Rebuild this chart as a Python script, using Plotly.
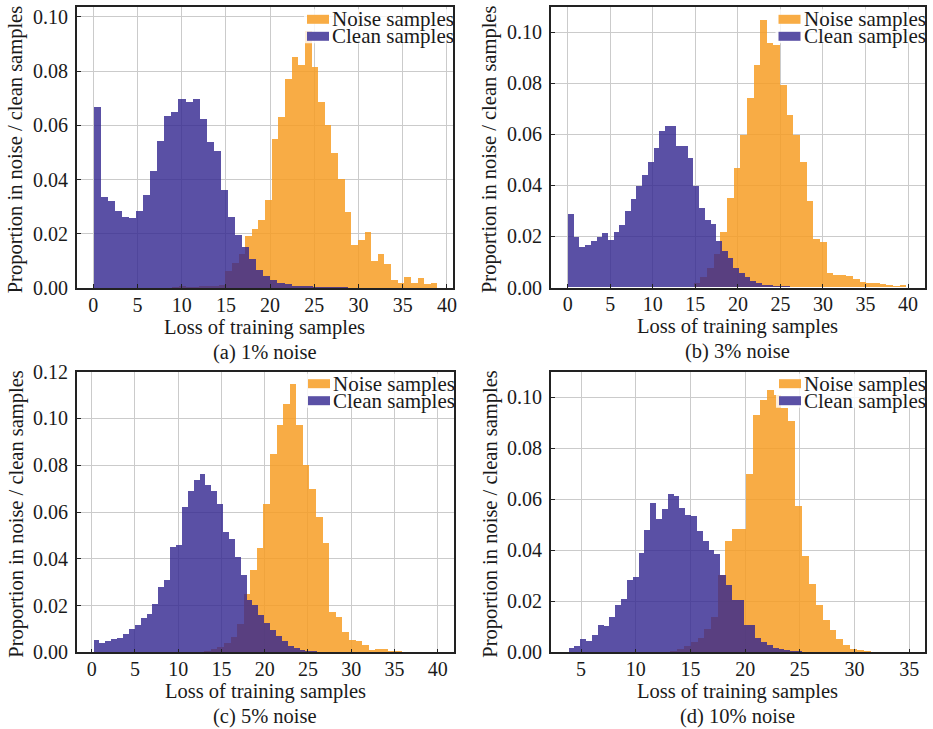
import plotly.graph_objects as go

W, H = 933, 729

# ---------------- histogram data (fraction of samples per loss bin) ----------------
# (a) 1% noise
clean_a_start, clean_a_width = 0.0, 0.8
clean_a = [0.0665, 0.0333, 0.0318, 0.0281, 0.0262, 0.0256, 0.0283, 0.0342, 0.0431, 0.0542,
           0.0632, 0.0648, 0.0695, 0.0683, 0.0697, 0.0623, 0.0538, 0.0504, 0.0362, 0.0259,
           0.0193, 0.0150, 0.0105, 0.0065, 0.0045, 0.0030, 0.0018, 0.0012, 0.0008, 0.0006,
           0.0005, 0.0004, 0.0003, 0.0003, 0.0002, 0.0002]
noise_a_start, noise_a_width = 8.9, 0.75
noise_a = [0.0003, 0.0005, 0.0003, 0.0002, 0.0005, 0.0008, 0.0008, 0.0010,
           0.0060, 0.0090, 0.0125, 0.0190, 0.0215, 0.0250, 0.0325, 0.0550, 0.0630, 0.0770,
           0.0850, 0.0820, 0.0945, 0.0815, 0.0686, 0.0600, 0.0495, 0.0400, 0.0280, 0.0156,
           0.0175, 0.0206, 0.0100, 0.0126, 0.0089, 0.0027, 0.0017, 0.0039, 0.0017, 0.0037,
           0.0012, 0.0017]

# (b) 3% noise
clean_b_start, clean_b_width = 0.0, 0.67
clean_b = [0.0286, 0.0196, 0.0157, 0.0165, 0.0183, 0.0196, 0.0214, 0.0186, 0.0216, 0.0242,
           0.0297, 0.0346, 0.0395, 0.0440, 0.0489, 0.0546, 0.0614, 0.0633, 0.0630, 0.0554,
           0.0554, 0.0506, 0.0395, 0.0312, 0.0264, 0.0248, 0.0183, 0.0140, 0.0115, 0.0075,
           0.0055, 0.0040, 0.0025, 0.0015, 0.0010, 0.0007, 0.0005, 0.0004, 0.0003, 0.0002]
noise_b_start, noise_b_width = 14.78, 0.78
noise_b = [0.0015, 0.0040, 0.0075, 0.0130, 0.0218, 0.0349, 0.0466, 0.0597, 0.0741, 0.0871,
           0.1046, 0.0957, 0.0950, 0.0793, 0.0676, 0.0597, 0.0489, 0.0336, 0.0188, 0.0179,
           0.0055, 0.0048, 0.0048, 0.0042, 0.0031, 0.0022, 0.0018, 0.0018, 0.0013, 0.0009,
           0.0005, 0.0009]

# (c) 5% noise
clean_c_start, clean_c_width = 0.19, 0.68
clean_c = [0.0053, 0.0043, 0.0048, 0.0057, 0.0063, 0.0081, 0.0103, 0.0117, 0.0148, 0.0167,
           0.0209, 0.0281, 0.0309, 0.0452, 0.0462, 0.0623, 0.0690, 0.0737, 0.0765, 0.0715,
           0.0690, 0.0637, 0.0516, 0.0487, 0.0409, 0.0333, 0.0224, 0.0202, 0.0160, 0.0125,
           0.0095, 0.0070, 0.0048, 0.0030, 0.0020, 0.0012, 0.0008, 0.0005, 0.0003]
noise_c_start, noise_c_width = 12.98, 0.76
noise_c = [0.0005, 0.0015, 0.0025, 0.0040, 0.0067, 0.0124, 0.0252, 0.0352, 0.0447, 0.0637,
           0.0851, 0.0972, 0.1065, 0.1150, 0.0972, 0.0801, 0.0701, 0.0581, 0.0467, 0.0174,
           0.0154, 0.0088, 0.0053, 0.0048, 0.0034, 0.0010, 0.0014, 0.0014, 0.0006, 0.0006,
           0.0003]

# (d) 10% noise
clean_d_start, clean_d_width = 3.84, 0.533
clean_d = [0.0018, 0.0026, 0.0052, 0.0044, 0.0068, 0.0110, 0.0105, 0.0140, 0.0186, 0.0212,
           0.0284, 0.0297, 0.0391, 0.0480, 0.0587, 0.0523, 0.0562, 0.0620, 0.0614, 0.0567,
           0.0539, 0.0536, 0.0477, 0.0438, 0.0401, 0.0388, 0.0303, 0.0264, 0.0205, 0.0205,
           0.0107, 0.0107, 0.0058, 0.0042, 0.0029, 0.0018, 0.0013, 0.0010, 0.0008, 0.0006,
           0.0004, 0.0003]
noise_d_start, noise_d_width = 13.08, 0.635
noise_d = [0.0005, 0.0013, 0.0026, 0.0042, 0.0058, 0.0094, 0.0140, 0.0306, 0.0437, 0.0486,
           0.0486, 0.0702, 0.0933, 0.0989, 0.1029, 0.1009, 0.0957, 0.0907, 0.0575, 0.0379,
           0.0270, 0.0188, 0.0127, 0.0088, 0.0052, 0.0031, 0.0016, 0.0009, 0.0005]

# ---------------- tick values and labels ----------------
x_ticks_40 = [0, 5, 10, 15, 20, 25, 30, 35, 40]
x_ticks_d = [5, 10, 15, 20, 25, 30, 35]
y_ticks_10 = [0.00, 0.02, 0.04, 0.06, 0.08, 0.10]
y_ticks_12 = [0.00, 0.02, 0.04, 0.06, 0.08, 0.10, 0.12]

captions = ["(a) 1% noise", "(b) 3% noise", "(c) 5% noise", "(d) 10% noise"]
x_title = "Loss of training samples"
y_title = "Proportion in noise / clean samples"
noise_label = "Noise samples"
clean_label = "Clean samples"

# ---------------- styling ----------------
FONT = "Liberation Serif"
TEXT = "#1a1a1a"
NOISE_COLOR = "rgba(247,157,36,0.85)"
NOISE_SWATCH = "rgb(248,172,69)"
CLEAN_COLOR = "rgba(49,36,143,0.8)"
CLEAN_SWATCH = "rgb(90,80,165)"
GRID = "#cbcbcb"
LINE = "#222222"


def centers(start, width, n):
    return [start + width * (i + 0.5) for i in range(n)]


# plot boxes in pixels: (left, right, top, bottom)
panels = [
    dict(clean=(clean_a_start, clean_a_width, clean_a), noise=(noise_a_start, noise_a_width, noise_a),
         xticks=x_ticks_40, yticks=y_ticks_10, xr=[-1.88, 40.69], yr=[0, 0.1035],
         box=(76.7, 453.0, 7.3, 288.0), cap=captions[0]),
    dict(clean=(clean_b_start, clean_b_width, clean_b), noise=(noise_b_start, noise_b_width, noise_b),
         xticks=x_ticks_40, yticks=y_ticks_10, xr=[-2.0, 41.93], yr=[0, 0.1098],
         box=(550.7, 924.5, 7.3, 287.5), cap=captions[1]),
    dict(clean=(clean_c_start, clean_c_width, clean_c), noise=(noise_c_start, noise_c_width, noise_c),
         xticks=x_ticks_40, yticks=y_ticks_12, xr=[-1.73, 41.88], yr=[0, 0.12],
         box=(76.7, 454.0, 371.7, 652.3), cap=captions[2]),
    dict(clean=(clean_d_start, clean_d_width, clean_d), noise=(noise_d_start, noise_d_width, noise_d),
         xticks=x_ticks_d, yticks=y_ticks_10, xr=[2.23, 36.44], yr=[0, 0.110],
         box=(550.7, 925.0, 371.7, 652.3), cap=captions[3]),
]


def px(x):
    return x / W


def py(y):
    return 1 - y / H


fig = go.Figure()
layout = dict(
    width=W, height=H, autosize=False,
    margin=dict(l=0, r=0, t=0, b=0, pad=0, autoexpand=False),
    paper_bgcolor="white", plot_bgcolor="white",
    barmode="overlay", bargap=0, showlegend=False,
    font=dict(family=FONT, size=20, color=TEXT),
)
annotations = []
shapes = []

for i, p in enumerate(panels):
    sfx = "" if i == 0 else str(i + 1)
    l, r, t, b = p["box"]

    ns, nw, nv = p["noise"]
    fig.add_trace(go.Bar(x=centers(ns, nw, len(nv)), y=nv, width=nw,
                         marker=dict(color=NOISE_COLOR, line=dict(width=0)),
                         name=noise_label, xaxis="x" + sfx, yaxis="y" + sfx))
    cs, cw, cv = p["clean"]
    fig.add_trace(go.Bar(x=centers(cs, cw, len(cv)), y=cv, width=cw,
                         marker=dict(color=CLEAN_COLOR, line=dict(width=0)),
                         name=clean_label, xaxis="x" + sfx, yaxis="y" + sfx))

    common = dict(showgrid=True, gridcolor=GRID, gridwidth=1,
                  showline=True, linecolor=LINE, linewidth=1.6, mirror=True,
                  ticks="inside", ticklen=4, tickwidth=1.2, tickcolor=LINE,
                  zeroline=False, automargin=False,
                  tickfont=dict(family=FONT, size=20, color=TEXT))
    layout["xaxis" + sfx] = dict(domain=[px(l), px(r)], range=p["xr"], anchor="y" + sfx,
                                 tickvals=p["xticks"], ticktext=[str(v) for v in p["xticks"]],
                                 ticklabelstandoff=-2, **common)
    layout["yaxis" + sfx] = dict(domain=[py(b), py(t)], range=p["yr"], anchor="x" + sfx,
                                 tickvals=p["yticks"], ticktext=[f"{v:.2f}" for v in p["yticks"]],
                                 ticklabelstandoff=3, **common)

    cx = (l + r) / 2
    # axis titles and caption
    annotations.append(dict(x=px(cx), y=py(b + 39), xref="paper", yref="paper", text=x_title,
                            showarrow=False, xanchor="center", yanchor="middle",
                            font=dict(family=FONT, size=20.5, color=TEXT)))
    annotations.append(dict(x=px(cx), y=py(b + 64), xref="paper", yref="paper", text=p["cap"],
                            showarrow=False, xanchor="center", yanchor="middle",
                            font=dict(family=FONT, size=20.5, color=TEXT)))
    annotations.append(dict(x=px(l - 61), y=py((t + b) / 2 + 2), xref="paper", yref="paper",
                            text=y_title, textangle=-90, showarrow=False,
                            xanchor="center", yanchor="middle",
                            font=dict(family=FONT, size=20.5, color=TEXT)))

    # legend in the upper-right corner
    shapes.append(dict(type="rect", xref="paper", yref="paper", layer="above",
                       x0=px(r - 149), x1=px(r - 1), y0=py(t + 36), y1=py(t + 2),
                       fillcolor="rgba(255,255,255,0.8)", line=dict(width=0)))
    for k, (lab, col) in enumerate([(noise_label, NOISE_SWATCH), (clean_label, CLEAN_SWATCH)]):
        yc = t + 12 + 17 * k
        shapes.append(dict(type="rect", xref="paper", yref="paper", layer="above",
                           x0=px(r - 146), x1=px(r - 124), y0=py(yc + 4.5), y1=py(yc - 4.5),
                           fillcolor=col, line=dict(width=0)))
        annotations.append(dict(x=px(r - 123), y=py(yc), xref="paper", yref="paper", text=lab,
                                showarrow=False, xanchor="left", yanchor="middle",
                                font=dict(family=FONT, size=21, color=TEXT)))

layout["annotations"] = annotations
layout["shapes"] = shapes
fig.update_layout(**layout)
fig.write_html("out.html")
